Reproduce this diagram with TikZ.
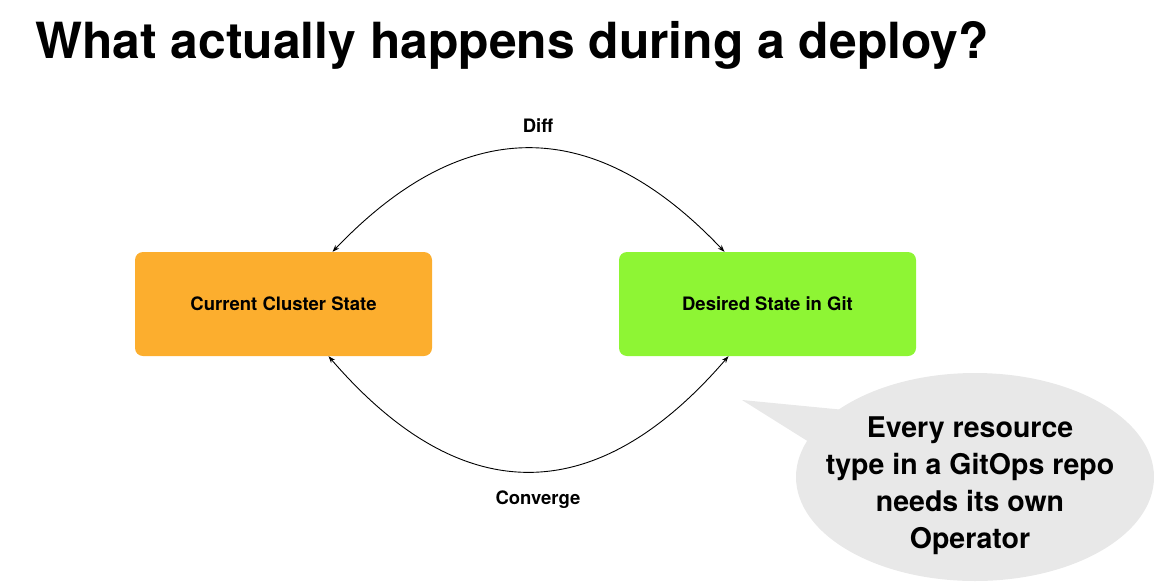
\documentclass[tikz,border=0pt]{standalone}
\usepackage{fontspec}
\setmainfont{TeX Gyre Heros}
\usepackage{tikz}
\usetikzlibrary{shapes.geometric,calc,arrows.meta}
\definecolor{boxorange}{HTML}{FCAE2E}
\definecolor{boxgreen}{HTML}{8EF534}
\definecolor{bubblegray}{HTML}{E8E8E8}

\begin{document}
\begin{tikzpicture}[
    x=1pt,y=-1pt,
    statebox/.style={rounded corners=8pt,minimum width=297pt,minimum height=104pt,
      inner sep=0pt,font=\fontsize{18.5}{22}\selectfont\bfseries},
    trans/.style={line width=0.9pt,{Stealth[length=7pt,width=5pt]}-{Stealth[length=7pt,width=5pt]}},
    lbl/.style={font=\fontsize{18.5}{22}\selectfont\bfseries}
    ]
    \useasboundingbox (0,0) rectangle (1154,584);
    % title
    \node[anchor=base west,inner sep=0pt,font=\fontsize{49.8}{60}\selectfont\bfseries]
      (title) at (35,58) {What actually happens during a deploy?};
    % states
    \node[statebox,fill=boxorange] (cur) at (283.5,304) {Current Cluster State};
    \node[statebox,fill=boxgreen] (des) at (767.5,304) {Desired State in Git};
    \coordinate (curtop) at ([xshift=49pt]cur.north);
    \coordinate (destop) at ([xshift=-43pt]des.north);
    \coordinate (curbot) at ([xshift=45pt]cur.south);
    \coordinate (desbot) at ([xshift=-39pt]des.south);
    \draw[trans] (curtop) .. controls (464,114) and (594,114) .. (destop);
    \draw[trans] (desbot) .. controls (596,510) and (461,510) .. (curbot);
    \node[lbl] (diff) at (538,126) {Diff};
    \node[lbl] (conv) at (538,500) {Converge};
    % speech bubble
    \node[ellipse,fill=bubblegray,minimum width=358pt,minimum height=208pt,inner sep=0pt]
      (note) at (975,477) {};
    \coordinate (tip) at (742,400);
    \fill[bubblegray] (845,410) -- (tip) -- (809,442) -- cycle;
    \node[align=center,font=\fontsize{28.5}{37}\selectfont\bfseries] (notetxt) at (970,486)
      {Every resource\\type in a GitOps repo\\needs its own\\Operator};
  \end{tikzpicture}
\end{document}
